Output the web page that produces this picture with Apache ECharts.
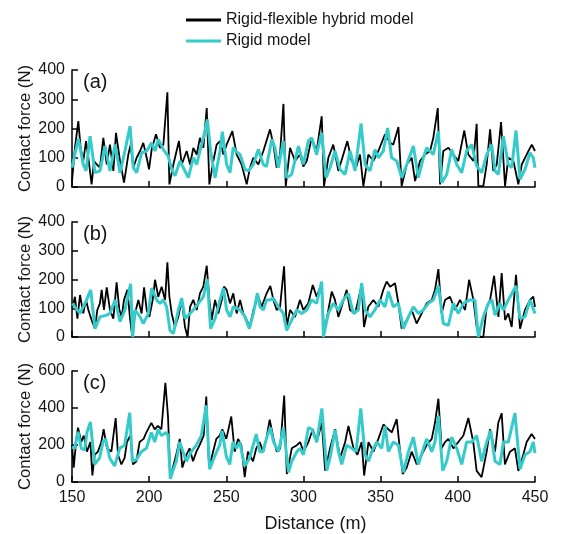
<!DOCTYPE html>
<html>
<head>
<meta charset="utf-8">
<script src="https://cdn.jsdelivr.net/npm/echarts@6/dist/echarts.min.js"></script>
<style>
html,body{margin:0;padding:0;background:#fff;}
#chart{width:561px;height:534px;}
</style>
</head>
<body>
<div id="chart"></div>
<script>
// ---- data: [distance (m), contact force (N)] ----
const seriesNames = ["Rigid-flexible hybrid model", "Rigid model"];
const panelLabels = ["(a)", "(b)", "(c)"];
const xTicks = [150, 200, 250, 300, 350, 400, 450];
const yMaxes = [400, 400, 600];
const yIntervals = [100, 100, 200];

const aHybrid = [[150,20],[151.9,134],[154.1,225],[155.6,134],[157.3,89],[159.1,157],[160.6,100],[162.7,9],[164.3,89],[166,77],[168.1,66],[170.3,168],[172.5,77],[174.6,145],[176.8,55],[178.5,185],[181.1,89],[183.7,15],[186.5,111],[188,145],[189.7,66],[191.9,100],[194.1,123],[196.2,151],[198.4,100],[199.9,60],[201.6,128],[204.4,180],[207,134],[209.2,145],[211.8,324],[213.1,9],[215.7,77],[219.3,157],[221.1,77],[224.3,123],[226.5,77],[228.6,134],[230.8,111],[232.9,168],[235.1,134],[237.3,270],[239,9],[241.6,89],[243.7,145],[245.9,157],[248.1,111],[250.2,145],[253.9,191],[256.7,111],[259.9,77],[263.2,9],[265.3,66],[267.5,100],[270.7,77],[274,123],[278.3,197],[280.5,145],[282.6,66],[284.8,111],[287,284],[288.5,3],[291.3,134],[294.5,89],[297.7,111],[299.9,70],[302.1,89],[305.3,168],[308.5,123],[311.8,242],[313.3,3],[316.1,100],[319.3,145],[322.6,55],[325.8,111],[328.4,157],[331.2,89],[334,66],[336.6,111],[338.8,3],[342,111],[345.3,89],[348.5,123],[352.8,180],[356.1,151],[358.2,145],[361.5,205],[363.6,3],[366.9,77],[370.1,100],[372.3,20],[375.5,89],[378.7,111],[382,123],[384.1,168],[387,270],[388.5,9],[390.6,123],[393.9,134],[397.1,111],[400.3,89],[404.2,193],[406.8,111],[410.1,89],[412.2,216],[413.3,3],[416.5,3],[418.7,77],[420.9,197],[423,55],[425.2,77],[428,222],[430.6,3],[432.7,100],[436,89],[439.2,9],[441.4,77],[444.6,111],[447.9,145],[450,123]];

const aRigid = [[150,66],[154.1,165],[157.3,77],[159.1,55],[161.7,174],[164.9,49],[168.1,55],[171.4,140],[174.6,55],[177.9,145],[181.1,49],[184.3,123],[187.6,208],[189.7,66],[191.9,49],[195.1,117],[198.4,123],[201.6,151],[203.8,123],[205.9,163],[209.2,128],[212.4,105],[214.6,60],[216.7,38],[220,89],[222.1,66],[225.4,32],[228.6,100],[230.8,77],[232.9,123],[235.1,168],[237.7,231],[239.8,123],[242.7,32],[245.9,123],[247.4,189],[250.2,77],[252.4,49],[254.5,135],[256.7,120],[258.9,111],[262.1,60],[264.3,55],[267.5,77],[270.7,128],[274,77],[276,70],[279.5,163],[281.5,134],[283.7,66],[286.9,157],[289.1,32],[292.3,43],[296.7,140],[299.9,77],[303.1,157],[305.3,168],[308.5,111],[311.8,185],[314.6,32],[317.2,66],[320.4,123],[323.7,60],[326.9,43],[330.2,123],[333.4,55],[337.3,217],[339.9,77],[343.1,55],[346.3,128],[348.5,100],[351.7,123],[354.5,202],[357.1,100],[360.4,89],[363.6,32],[366.9,77],[371.2,140],[374.4,32],[377.7,100],[379.8,134],[384.1,111],[387.4,191],[389.5,15],[392.8,43],[396,128],[399.3,77],[402.5,49],[405.7,123],[409,145],[412.2,72],[415.5,49],[418.7,111],[421.9,145],[424.1,55],[426.3,43],[429.5,174],[432.7,77],[434.9,66],[437.7,193],[440.3,26],[443.5,60],[446.8,117],[448.9,100],[450,66]];

const bHybrid = [[150.4,105],[151.9,140],[153.5,64],[155.2,146],[157.3,82],[159.1,129],[160.6,94],[162.7,59],[164.9,29],[166.4,94],[168.1,117],[169.2,164],[170.7,94],[172.5,173],[174.6,94],[176.8,64],[178.9,190],[180.7,94],[182.2,70],[183.7,129],[185.9,164],[187.6,64],[189.1,0],[190.8,82],[193,129],[195.1,82],[196.7,173],[198.4,94],[200.1,70],[202.3,129],[203.8,199],[205.9,140],[208.1,175],[210.3,129],[211.8,260],[213.1,140],[214.6,82],[216.7,35],[218.9,70],[221.1,129],[223.2,35],[224.9,0],[226.5,105],[228.6,129],[230.8,94],[232.9,152],[235.1,175],[237.3,248],[239,129],[240.5,59],[242.7,129],[244.8,82],[247,129],[248.5,175],[250.2,164],[252.4,117],[254.5,152],[256.7,82],[258.9,129],[261,82],[263.2,59],[265.3,35],[267.5,94],[270.7,140],[272.9,105],[276.1,152],[278.5,178],[280.5,129],[282.6,94],[284.8,105],[287.4,246],[289.1,35],[291.3,94],[294.5,70],[297.7,129],[299.9,94],[303.1,117],[306,181],[308.5,140],[311.8,187],[313.3,12],[316.1,94],[318.3,158],[320.4,129],[322.6,70],[324.7,105],[328,164],[330.1,94],[333.4,82],[335.5,129],[337.7,181],[339.2,35],[342,105],[345.3,129],[348.5,105],[351.7,164],[353.9,193],[356.1,175],[359.3,187],[361.5,117],[363.6,29],[366.9,59],[370.1,94],[373.3,47],[376.6,82],[379.8,117],[383.1,129],[385.2,164],[387.4,236],[389.5,82],[391.7,129],[394.9,140],[398.2,94],[401.4,129],[404.7,94],[407.3,199],[410.1,129],[412.2,35],[414.4,0],[416.5,0],[418.7,105],[420.9,129],[423.5,213],[426.3,70],[428.4,222],[430.6,59],[432.7,82],[434.9,35],[437.7,216],[440.3,29],[443.5,94],[446.8,129],[448.9,140],[450,105]];

const bRigid = [[150.4,117],[151.9,105],[155.2,82],[159.5,129],[162.1,164],[164.9,29],[168.1,70],[172.5,76],[174.6,82],[177.9,129],[181.1,53],[184.3,94],[188,185],[189.3,0],[190.8,94],[194.1,70],[196.2,47],[199.5,82],[201.6,170],[204.9,129],[207,117],[209.2,129],[211.3,105],[213.5,23],[215.7,12],[218.9,94],[221.1,135],[223.2,64],[225.4,76],[228.6,94],[231.9,117],[235.1,140],[237.7,201],[239.8,29],[242.7,64],[245.9,129],[248.1,170],[250.2,94],[252.4,70],[254.5,105],[258.9,94],[262.1,70],[264.9,29],[267.5,82],[270.1,152],[271.8,105],[274,94],[276.1,129],[278.3,129],[280.5,135],[283.7,105],[286.9,82],[289.1,23],[292.3,59],[295.6,94],[298.8,82],[302.1,94],[305.3,129],[308.5,117],[311.8,193],[312.9,0],[316.1,82],[319.3,117],[322.6,94],[325.8,129],[329.1,152],[332.3,82],[335.5,94],[337.7,187],[339.9,94],[343.1,70],[346.3,94],[349.6,129],[352.8,105],[355,158],[358.2,105],[361.5,117],[364.7,29],[368,70],[371.2,105],[374.4,82],[377.7,94],[380.9,117],[384.1,129],[387.4,178],[390.6,47],[393.9,41],[397.1,117],[400.3,82],[403.6,117],[407.9,129],[411.1,129],[413.3,0],[416.5,70],[419.8,117],[422.1,129],[424.1,76],[427.3,117],[429.5,94],[432.7,129],[437.7,178],[440.3,64],[443.5,70],[446.8,129],[450,82]];

const cHybrid = [[150,199],[151.1,78],[152.8,233],[153.9,294],[156,216],[157.6,251],[159.7,164],[161.9,216],[163.2,35],[164.7,147],[166.8,164],[169,216],[170.5,285],[172.7,182],[175.5,164],[178.3,346],[179.8,147],[182,95],[184.1,130],[185.6,216],[187.8,251],[189.5,95],[191.7,112],[193.8,216],[196.4,233],[198.2,268],[201.4,320],[203.6,285],[205.7,303],[207.9,285],[210.5,536],[212.2,354],[213.7,26],[215.9,95],[218,164],[219.8,233],[221.5,78],[224.1,147],[226.2,182],[228.4,112],[230.6,164],[232.7,199],[235.3,251],[237,462],[238.8,78],[241.4,164],[243.5,233],[245.7,251],[247.4,285],[250,233],[253.2,354],[255.4,164],[257.6,233],[259.7,199],[261.9,26],[264,164],[267.3,112],[269.4,182],[271.6,216],[273.8,164],[275.9,233],[278.1,337],[280.6,233],[282.7,164],[284.9,182],[287.5,467],[289.2,43],[292.4,182],[295.7,199],[297.8,216],[300,164],[303.2,216],[306,285],[308.6,216],[311.9,320],[314,61],[317.2,182],[320.5,285],[323.7,130],[327,216],[329.1,303],[332.4,182],[334.9,147],[337.7,216],[339.3,35],[342.1,216],[345.3,164],[348.5,233],[351.8,311],[355,285],[357.2,268],[360.4,340],[362.6,164],[364.3,43],[366.9,78],[370.1,164],[373.4,95],[376.6,147],[379.8,199],[383.1,233],[385.2,320],[387.4,450],[389.5,182],[391.7,216],[393.9,233],[397.1,182],[400.3,216],[403.6,251],[406.8,346],[410,216],[412.2,60],[415.4,26],[418.7,164],[420.8,285],[424.1,164],[426.2,320],[428.4,372],[430.5,95],[433.8,164],[437,182],[439.2,60],[442.4,147],[444.6,216],[447.8,259],[450,233]];

const cRigid = [[150,190],[151.7,182],[153.9,271],[156,182],[158.2,173],[159.7,268],[161.9,325],[164.7,95],[167.9,130],[170.1,216],[171.8,233],[174.4,130],[177.6,86],[180.9,182],[184.1,199],[187.4,375],[189.1,112],[191.7,121],[194.9,164],[198.2,182],[201.4,268],[203.6,216],[205.7,285],[207.9,251],[211.1,268],[212.2,251],[213.7,17],[215.4,61],[217.6,112],[219.8,216],[221.9,164],[224.1,112],[227.3,164],[230.6,199],[233.8,251],[237,415],[239.2,69],[242.4,138],[245.7,199],[247.2,277],[250,138],[252.2,95],[254.3,216],[256.5,182],[258.6,216],[261.9,86],[265.1,130],[269.4,259],[271.6,164],[273.8,164],[275.9,233],[278.5,294],[280.6,216],[283.8,164],[287,294],[290.3,52],[292.4,112],[295.7,164],[297.8,182],[300,147],[303.2,294],[305.4,285],[308.6,216],[311.9,398],[315.1,61],[317.2,130],[320.5,282],[322.6,164],[324.8,95],[328,199],[331.3,182],[334.1,164],[337.1,398],[339.9,147],[342.1,112],[344.2,164],[347.5,216],[350.7,182],[352.9,303],[355,164],[358.2,216],[361.5,199],[364.7,52],[368,164],[371.2,242],[374.4,95],[377.7,182],[379.8,233],[383.1,164],[385.2,216],[387.4,358],[390.2,61],[392.8,112],[396,242],[399.3,182],[402.5,95],[405.7,216],[409,216],[412.2,251],[415.4,112],[418.7,216],[421.3,277],[424.1,112],[427.3,95],[429.5,216],[432.7,216],[437,372],[440.3,69],[443.5,147],[446.7,164],[448.9,216],[450,156]];

const panels = [[aHybrid, aRigid], [bHybrid, bRigid], [cHybrid, cRigid]];

// ---- chart ----
const FONT = 'Liberation Sans, Arial, sans-serif';
const TXT = '#151515';
const BLACK = '#000000';
const CYAN = '#36CBCB';
const grids = [
  {left: 72, width: 463, top: 70, height: 117},
  {left: 72, width: 463, top: 222, height: 115},
  {left: 72, width: 463, top: 371, height: 116}
];

const xAxes = grids.map((g, i) => ({
  type: 'value', gridIndex: i, min: xTicks[0], max: xTicks[xTicks.length - 1], interval: 50,
  axisLine: {show: true, onZero: false, lineStyle: {color: BLACK, width: 1.5}},
  axisTick: {show: true, inside: true, length: 6, lineStyle: {color: BLACK, width: 1.5}},
  axisLabel: {show: i === 2, fontSize: 16, color: TXT, fontFamily: FONT, margin: 8},
  splitLine: {show: false},
  name: i === 2 ? 'Distance (m)' : '',
  nameLocation: 'middle', nameGap: 33, nameMoveOverlap: false,
  nameTextStyle: {fontSize: 18, color: TXT, fontFamily: FONT, padding: [0, 0, 0, 24]}
}));

const yAxes = grids.map((g, i) => ({
  type: 'value', gridIndex: i, min: 0, max: yMaxes[i], interval: yIntervals[i],
  axisLine: {show: true, lineStyle: {color: BLACK, width: 1.5}},
  axisTick: {show: true, inside: true, length: 6, lineStyle: {color: BLACK, width: 1.5}},
  axisLabel: {fontSize: 16, color: TXT, fontFamily: FONT, margin: 7},
  splitLine: {show: false},
  name: 'Contact force (N)', nameLocation: 'middle', nameGap: 38, nameRotate: 90,
  nameMoveOverlap: false,
  nameTextStyle: {fontSize: 16.7, color: TXT, fontFamily: FONT}
}));

const series = [];
panels.forEach((pair, i) => {
  series.push({
    name: seriesNames[0], type: 'line', xAxisIndex: i, yAxisIndex: i,
    data: pair[0], symbol: 'none', smooth: false, z: 2,
    lineStyle: {color: BLACK, width: 1.8}, itemStyle: {color: BLACK}
  });
  series.push({
    name: seriesNames[1], type: 'line', xAxisIndex: i, yAxisIndex: i,
    data: pair[1], symbol: 'none', smooth: false, z: 3,
    lineStyle: {color: CYAN, width: 3}, itemStyle: {color: CYAN}
  });
});

const graphics = panelLabels.map((t, i) => ({
  type: 'text', x: 83, y: grids[i].top + 12,
  style: {text: t, fontSize: 20, fontFamily: FONT, fill: TXT, verticalAlign: 'middle'}
}));

const chart = echarts.init(document.getElementById('chart'), null, {renderer: 'canvas'});
chart.setOption({
  animation: false,
  backgroundColor: '#ffffff',
  grid: grids,
  xAxis: xAxes,
  yAxis: yAxes,
  legend: {
    orient: 'vertical', left: 186, top: 11, padding: 0,
    itemWidth: 35, itemHeight: 3, itemGap: 3,
    data: [
      {name: seriesNames[0], icon: 'rect', itemStyle: {color: BLACK}},
      {name: seriesNames[1], icon: 'rect', itemStyle: {color: CYAN}}
    ],
    textStyle: {fontSize: 16, color: TXT, fontFamily: FONT, lineHeight: 18},
    selectedMode: false
  },
  graphic: graphics,
  series: series
});
</script>
</body>
</html>
